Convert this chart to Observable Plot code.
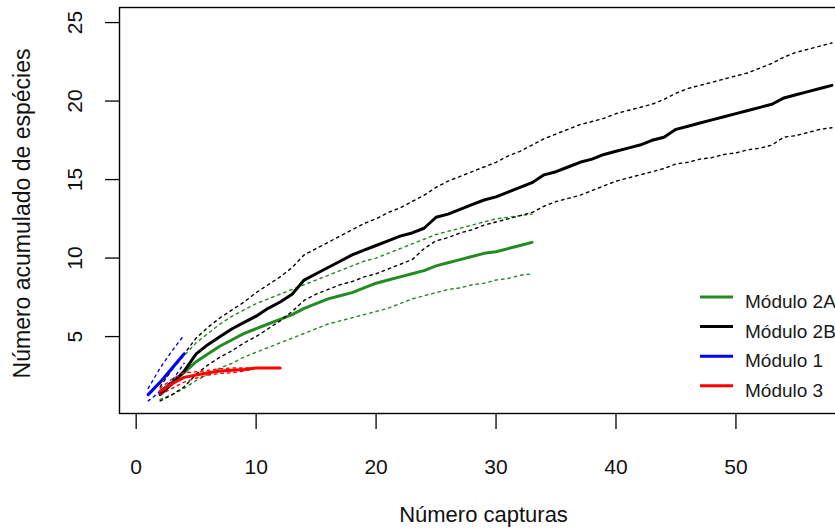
<!DOCTYPE html>
<html><head><meta charset="utf-8">
<script src="https://cdn.jsdelivr.net/npm/d3@7"></script>
<script src="https://cdn.jsdelivr.net/npm/@observablehq/plot@0.6"></script>
<style>
body{margin:0;overflow:hidden;background:#fff;font-family:Arial,"Liberation Sans",sans-serif;}
#wrap{position:relative;width:835px;height:528px;overflow:hidden;}
#wrap svg{display:block;max-width:none !important;height:528px !important;}
#legend{position:absolute;left:0;top:0;}
</style></head><body><div id="wrap"></div>
<script>
// ---- data ----
const seriesNames = ["Módulo 2A", "Módulo 2B", "Módulo 1", "Módulo 3"];
const seriesColors = ["#228B22", "#000000", "#0000FF", "#FF0000"];
const seriesStart = [2, 2, 1, 2]; // first "Número capturas" of each curve

const mod2A_mean = [1.5,2.1,2.7,3.4,3.9,4.4,4.8,5.2,5.5,5.8,6.1,6.4,6.8,7.1,7.4,7.6,7.8,8.1,8.4,8.6,8.8,9.0,9.2,9.5,9.7,9.9,10.1,10.3,10.4,10.6,10.8,11.0];
const mod2A_upper = [2.0,2.9,3.8,4.6,5.2,5.8,6.3,6.7,7.1,7.4,7.7,8.0,8.3,8.6,8.9,9.2,9.5,9.8,10.0,10.3,10.6,10.9,11.2,11.5,11.7,11.9,12.1,12.3,12.5,12.6,12.7,12.8];
const mod2A_lower = [1.0,1.3,1.7,2.2,2.6,3.0,3.3,3.7,4.0,4.3,4.6,4.9,5.2,5.5,5.8,6.0,6.2,6.4,6.6,6.8,7.1,7.4,7.6,7.8,8.0,8.1,8.3,8.4,8.6,8.7,8.9,9.0];

const mod2B_mean = [1.3,2.0,2.8,3.9,4.5,5.0,5.5,5.9,6.3,6.8,7.2,7.7,8.6,9.0,9.4,9.8,10.2,10.5,10.8,11.1,11.4,11.6,11.9,12.6,12.8,13.1,13.4,13.7,13.9,14.2,14.5,14.8,15.3,15.5,15.8,16.1,16.3,16.6,16.8,17.0,17.2,17.5,17.7,18.2,18.4,18.6,18.8,19.0,19.2,19.4,19.6,19.8,20.2,20.4,20.6,20.8,21.0];
const mod2B_upper = [1.8,2.9,3.9,4.9,5.6,6.2,6.7,7.2,7.8,8.3,8.8,9.4,10.2,10.6,11.0,11.4,11.8,12.2,12.5,12.9,13.2,13.6,14.0,14.5,14.9,15.2,15.5,15.8,16.1,16.5,16.8,17.2,17.6,17.9,18.2,18.5,18.7,18.9,19.2,19.4,19.6,19.8,20.1,20.5,20.8,21.0,21.2,21.4,21.6,21.8,22.1,22.4,22.8,23.1,23.3,23.5,23.7];
const mod2B_lower = [0.9,1.3,1.8,2.6,3.2,3.7,4.1,4.6,5.0,5.5,6.0,6.6,7.3,7.7,8.0,8.3,8.5,8.8,9.0,9.3,9.6,9.9,10.6,11.1,11.3,11.6,11.8,12.1,12.3,12.5,12.7,12.9,13.3,13.6,13.8,14.0,14.3,14.6,14.9,15.1,15.3,15.5,15.7,16.0,16.1,16.3,16.4,16.6,16.7,16.9,17.0,17.2,17.7,17.8,18.0,18.2,18.3];

const mod1_mean = [1.3,2.1,3.0,3.9];
const mod1_upper = [1.7,3.0,4.1,5.1];
const mod1_lower = [0.9,1.5,2.2,3.3];

const mod3_mean = [1.5,2.0,2.4,2.55,2.7,2.8,2.85,2.9,3.0,3.0,3.0];
const mod3_upper = [1.7,2.3,2.7,2.75,2.85,2.95,3.0,3.0,3.0,3.0,3.0];
const mod3_lower = [1.3,1.7,2.1,2.35,2.55,2.65,2.7,2.8,3.0,3.0,3.0];

const xTicks = [0, 10, 20, 30, 40, 50];
const yTicks = [5, 10, 15, 20, 25];
const xTitle = "Número capturas";
const yTitle = "Número acumulado de espécies";

// ---- build table ----
const means = [mod2A_mean, mod2B_mean, mod1_mean, mod3_mean];
const uppers = [mod2A_upper, mod2B_upper, mod1_upper, mod3_upper];
const lowers = [mod2A_lower, mod2B_lower, mod1_lower, mod3_lower];
const rows = [];
seriesNames.forEach((s, k) => {
  means[k].forEach((m, i) => rows.push({s, x: seriesStart[k] + i, mean: m, hi: uppers[k][i], lo: lowers[k][i]}));
});

const W = 870, H = 528;
const font = "Arial, 'Liberation Sans', sans-serif";
const lineMarks = [];
seriesNames.forEach((s, k) => {
  const d = rows.filter(r => r.s === s);
  const c = seriesColors[k];
  lineMarks.push(Plot.line(d, {x: "x", y: "hi", stroke: c, strokeWidth: 1.4, strokeDasharray: "2.5,4"}));
  lineMarks.push(Plot.line(d, {x: "x", y: "lo", stroke: c, strokeWidth: 1.4, strokeDasharray: "2.5,4"}));
  lineMarks.push(Plot.line(d, {x: "x", y: "mean", stroke: c, strokeWidth: 3}));
});

const chart = Plot.plot({
  width: W, height: H,
  marginLeft: 119, marginTop: 7, marginBottom: 115, marginRight: W - 859,
  x: {domain: [-1.39, 60.3]},
  y: {domain: [0.1, 25.96]},
  style: {fontFamily: font, color: "#000", background: "white", overflow: "visible"},
  marks: [
    Plot.axisX(xTicks, {tickSize: 16, fill: "none", label: null, strokeWidth: 1.3}),
    Plot.axisY(yTicks, {tickSize: 14, fill: "none", label: null, strokeWidth: 1.3}),
    Plot.text(xTicks, {x: d => d, text: d => String(d), frameAnchor: "bottom", dy: 54, fontSize: 21, lineAnchor: "middle", fill: "#111"}),
    Plot.text(yTicks, {y: d => d, text: d => String(d), frameAnchor: "left", dx: -44, rotate: -90, fontSize: 21, textAnchor: "middle", lineAnchor: "middle", fill: "#111"}),
    Plot.text([xTitle], {text: d => d, frameAnchor: "bottom", dy: 101, dx: -6, fontSize: 22, lineAnchor: "middle", fill: "#111"}),
    Plot.text([yTitle], {text: d => d, frameAnchor: "left", dx: -97, dy: 3, rotate: -90, fontSize: 23, textAnchor: "middle", lineAnchor: "middle", fill: "#111"}),
    ...lineMarks,
    Plot.frame({stroke: "#000", strokeWidth: 1.4})
  ]
});
const wrap = document.getElementById("wrap");
wrap.appendChild(chart);

// ---- legend overlay ----
const leg = d3.select(wrap).append("svg").attr("id", "legend").attr("width", 835).attr("height", 528);
const items = leg.selectAll("g").data(seriesNames).join("g")
  .attr("transform", (d, i) => `translate(700,${297 + i * 29.6})`);
items.append("line").attr("x1", 0).attr("x2", 33).attr("y1", 0).attr("y2", 0)
  .attr("stroke", (d, i) => seriesColors[i]).attr("stroke-width", 3);
items.append("text").attr("x", 45).attr("y", 11).attr("font-family", font).attr("font-size", 19)
  .attr("fill", "#1a1a1a").text(d => d);
</script></body></html>
